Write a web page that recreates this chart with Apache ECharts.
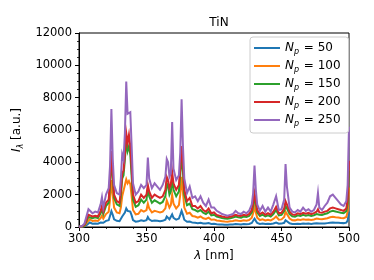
<!DOCTYPE html>
<html>
<head>
<meta charset="utf-8">
<script src="https://cdn.jsdelivr.net/npm/echarts@6/dist/echarts.min.js"></script>
<style>
html,body{margin:0;padding:0;background:#fff;}
#chart{width:374px;height:280px;}
</style>
</head>
<body>
<div id="chart"></div>
<script>
// Wavelength grid (nm)
const wavelengths = [300,302,304,306,307,308,310,312,314,316,
317,318,320,322,323,324,325,326,328,330,
331,332,333,334,335,336,337,338,339,340,
342,344,346,347,348,350,351,352,354,356,
357,358,360,362,364,365,366,367,368,369,
370,372,374,375,376,377,378,380,382,384,
386,388,390,392,394,396,398,400,402,404,
406,408,410,412,414,416,418,420,422,424,
426,428,429,430,431,432,434,436,438,440,
442,444,446,448,450,452,453,454,456,458,
460,462,464,466,468,470,472,474,476,477,
478,480,482,484,486,488,490,492,494,496,
498,499,500];

const seriesNames = ['50','100','150','200','250'];

const np50 = [5,10,40,150,230,280,200,210,200,280,
330,260,380,420,700,980,750,480,380,360,
480,650,720,900,1150,1000,1080,950,720,430,
330,350,420,400,380,420,620,470,370,400,
420,380,360,380,450,650,620,480,530,780,
570,450,520,750,1000,750,450,320,340,270,
260,240,260,220,210,240,190,200,170,160,
150,140,140,150,160,180,170,160,180,170,
190,250,350,520,380,250,190,210,180,200,
180,220,280,200,210,260,420,370,230,190,
180,200,190,210,200,210,190,210,230,260,
220,210,220,240,260,280,270,260,250,240,
270,400,950];

const np100 = [10,15,70,300,420,480,370,400,370,550,
700,520,800,950,1700,2900,2000,1200,900,850,
1200,1900,2000,2600,2950,2700,2850,2650,1900,1050,
780,820,1050,1000,950,1050,1450,1150,900,1000,
1050,950,900,950,1150,1650,1550,1200,1350,2000,
1450,1150,1350,2000,3100,2150,1200,820,880,680,
650,580,650,540,500,580,450,470,400,380,
360,340,330,350,370,410,380,370,410,390,
430,580,850,1250,900,580,430,480,410,450,
410,500,650,450,470,620,950,850,520,420,
410,460,440,480,450,470,440,470,520,600,
490,480,510,540,600,640,610,590,560,540,
620,950,2450];

const np150 = [15,20,100,450,620,700,550,600,550,850,
1100,800,1300,1500,2600,4400,3000,1800,1400,1300,
1900,3000,3200,4200,5300,4700,5000,4500,3100,1700,
1250,1350,1700,1600,1500,1700,2400,1900,1500,1650,
1700,1550,1450,1550,1900,2700,2500,2000,2200,3000,
2300,1900,2200,3200,4600,3400,2000,1350,1450,1100,
1050,950,1050,880,800,950,720,760,640,600,
560,530,510,540,580,650,600,580,650,620,
680,900,1300,1850,1400,900,680,760,650,720,
650,800,1050,720,750,980,1300,1150,800,660,
640,720,680,750,700,740,680,730,800,920,
760,750,800,850,950,1000,960,920,880,850,
980,1450,3500];

const np200 = [20,30,130,550,750,850,650,700,650,1000,
1300,950,1500,1700,2900,4700,3200,2000,1600,1500,
2200,3300,3500,4500,5800,5200,5700,5000,3600,2000,
1500,1600,2000,1900,1800,2000,2600,2200,1800,2000,
2100,1900,1800,1900,2300,3100,2900,2400,2600,3400,
2700,2300,2600,3600,5000,3900,2300,1600,1800,1300,
1300,1150,1300,1050,950,1150,850,900,750,700,
650,620,600,640,680,760,700,680,760,720,
800,1050,1500,2100,1600,1050,800,900,760,850,
760,950,1250,850,880,1150,1600,1400,950,780,
750,850,800,880,820,870,800,860,950,1100,
900,880,950,1000,1150,1200,1150,1100,1050,1000,
1150,1700,4100];

const np250 = [30,40,200,800,1100,1150,850,950,900,1400,
1850,1200,2000,2400,3800,7300,4200,2600,2100,2000,
3000,4500,4200,5800,9000,7000,7100,7100,5000,2700,
2000,2200,2600,2500,2400,2600,4300,3000,2400,2700,
2800,2500,2300,2600,3100,4200,4000,3100,3300,6500,
3600,2900,3200,4600,7900,5000,3000,2100,2500,1800,
1900,1600,1900,1500,1300,1700,1200,1200,1000,900,
800,750,700,750,800,1000,850,800,950,850,
1000,1400,2100,3800,2300,1400,1000,1300,950,1200,
950,1400,1900,1050,1100,1700,3900,2500,1200,950,
900,1050,950,1200,1000,1100,950,1050,1400,2100,
1200,1050,1300,1500,1900,2000,1800,1600,1400,1300,
1600,2600,6200];

const xTicks = [300,350,400,450,500];
const yTicks = [0,2000,4000,6000,8000,10000,12000];

const colors = ['#1f77b4','#ff7f0e','#2ca02c','#d62728','#9467bd'];
const allValues = [np50,np100,np150,np200,np250];

const FONT = 'DejaVu Sans';
const chart = echarts.init(document.getElementById('chart'), null, {renderer:'canvas'});

const series = seriesNames.map((n,k)=>({
  name: n,
  type: 'line',
  data: wavelengths.map((x,i)=>[x, allValues[k][i]]),
  showSymbol: false,
  symbol: 'none',
  lineStyle: {width: 2, color: colors[k], join: 'miter'},
  itemStyle: {color: colors[k]},
  emphasis: {disabled: true},
  animation: false
}));

const axisCommon = {
  axisLine: {show: true, lineStyle: {color: '#000', width: 1}},
  axisTick: {show: true, inside: false, length: 4, lineStyle: {color: '#000', width: 1}},
  minorTick: {show: true, length: 2, lineStyle: {color: '#000', width: 0.8}},
  splitLine: {show: false},
  axisLabel: {color: '#000', fontFamily: FONT, fontSize: 11.5, formatter: (v)=> String(v)}
};

chart.setOption({
  animation: false,
  backgroundColor: '#fff',
  title: {
    text: 'TiN', left: 214, top: 12, textAlign: 'center',
    textStyle: {fontFamily: FONT, fontSize: 12, fontWeight: 'normal', color: '#000'}
  },
  grid: {left: 79, right: 25, top: 33, bottom: 53, show: true, borderColor: '#000', borderWidth: 1, backgroundColor: 'transparent'},
  legend: {
    show: true,
    orient: 'vertical',
    left: 250, top: 37,
    width: 97,
    padding: [5, 8, 5, 4],
    itemWidth: 26, itemHeight: 2, itemGap: 4,
    icon: 'rect',
    backgroundColor: 'rgba(255,255,255,0.8)',
    borderColor: '#cccccc', borderWidth: 1, borderRadius: 3,
    data: seriesNames,
    formatter: (name)=> `{n|N}{s|p}{t| = ${name}}`,
    textStyle: {
      fontFamily: FONT, fontSize: 12, color: '#000',
      rich: {
        n: {fontFamily: FONT, fontSize: 12, fontStyle: 'italic', lineHeight: 16, color:'#000'},
        s: {fontFamily: FONT, fontSize: 8, fontStyle: 'italic', lineHeight: 16, verticalAlign: 'bottom', padding:[4,1,0,0], color:'#000'},
        t: {fontFamily: FONT, fontSize: 12, lineHeight: 16, color:'#000'}
      }
    }
  },
  xAxis: Object.assign({}, axisCommon, {
    type: 'value', min: xTicks[0], max: xTicks[xTicks.length-1], interval: 50,
    minorTick: Object.assign({}, axisCommon.minorTick, {splitNumber: 5}),
    axisLabel: Object.assign({}, axisCommon.axisLabel, {margin: 6}),
    name: '{i|λ}{t| [nm]}',
    nameLocation: 'middle', nameGap: 22,
    nameTextStyle: {
      fontFamily: FONT, fontSize: 12, color: '#000',
      rich: {i: {fontFamily: FONT, fontSize: 12, fontStyle: 'italic', color:'#000'}, t: {fontFamily: FONT, fontSize: 12, color:'#000'}}
    }
  }),
  yAxis: Object.assign({}, axisCommon, {
    type: 'value', min: yTicks[0], max: yTicks[yTicks.length-1], interval: 2000,
    minorTick: Object.assign({}, axisCommon.minorTick, {splitNumber: 4}),
    axisLabel: Object.assign({}, axisCommon.axisLabel, {margin: 7}),
    name: '{i|I}{s|λ}{t| [a.u.]}',
    nameLocation: 'middle', nameGap: 45, nameRotate: 90,
    nameTextStyle: {
      fontFamily: FONT, fontSize: 12, color: '#000',
      rich: {
        i: {fontFamily: FONT, fontSize: 12, fontStyle: 'italic', lineHeight: 16, color:'#000'},
        s: {fontFamily: FONT, fontSize: 8, fontStyle: 'italic', lineHeight: 16, verticalAlign: 'bottom', padding:[4,0,0,0], color:'#000'},
        t: {fontFamily: FONT, fontSize: 12, lineHeight: 16, color:'#000'}
      }
    }
  }),
  series: series
});
</script>
</body>
</html>
